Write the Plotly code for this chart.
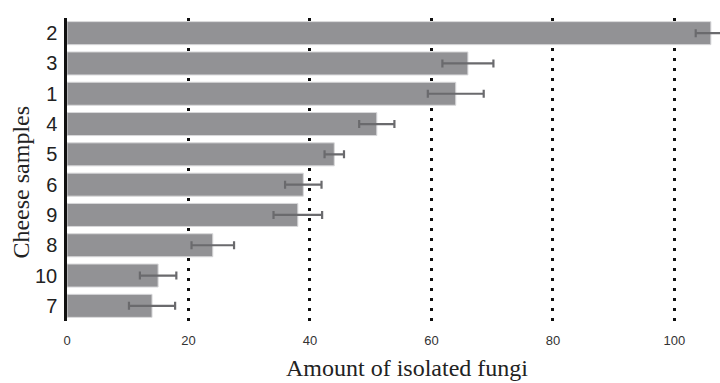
import plotly.graph_objects as go

samples = ["2", "3", "1", "4", "5", "6", "9", "8", "10", "7"]
amounts = [106.0, 66.0, 64.0, 51.0, 44.0, 38.9, 38.0, 24.0, 15.0, 14.0]
errors = [2.5, 4.2, 4.6, 2.9, 1.6, 3.0, 4.0, 3.5, 3.0, 3.8]
x_ticks = [0, 20, 40, 60, 80, 100]

fig = go.Figure()
fig.add_trace(go.Bar(
    x=amounts, y=samples, orientation="h",
    marker=dict(color="#929295", line=dict(color="#d8d8da", width=1)),
    width=0.76,
    error_x=dict(type="data", array=errors, visible=True,
                 color="#6a6a6d", thickness=2.2, width=4),
))

fig.update_layout(
    width=720, height=383,
    margin=dict(l=67, r=0, t=18, b=62),
    plot_bgcolor="white", paper_bgcolor="white",
    showlegend=False,
    xaxis=dict(
        range=[0, 107.5], tickvals=x_ticks, ticktext=[str(v) for v in x_ticks],
        showgrid=True, gridcolor="#111111", gridwidth=2.5, griddash="2.5px,7.5px",
        zeroline=False, showline=False,
        ticks="outside", ticklen=7, tickcolor="rgba(0,0,0,0)",
        tickfont=dict(family="Liberation Sans, Arial", size=13, color="#333333"),
    ),
    yaxis=dict(
        categoryorder="array", categoryarray=samples, autorange="reversed",
        showgrid=False, zeroline=False,
        showline=True, linecolor="#111111", linewidth=2.5,
        ticks="outside", ticklen=3, tickcolor="rgba(0,0,0,0)",
        tickfont=dict(family="Liberation Sans, Arial", size=20, color="#222222"),
    ),
    annotations=[
        dict(text="Amount of isolated fungi", xref="paper", yref="paper",
             x=0.521, y=-0.155, xanchor="center", yanchor="middle", showarrow=False,
             font=dict(family="Liberation Serif, Times New Roman", size=24, color="#222222")),
        dict(text="Cheese samples", xref="paper", yref="paper", textangle=-90,
             x=-0.071, y=0.459, xanchor="center", yanchor="middle", showarrow=False,
             font=dict(family="Liberation Serif, Times New Roman", size=24, color="#222222")),
    ],
    bargap=0.24,
)

fig.write_html("out.html")
